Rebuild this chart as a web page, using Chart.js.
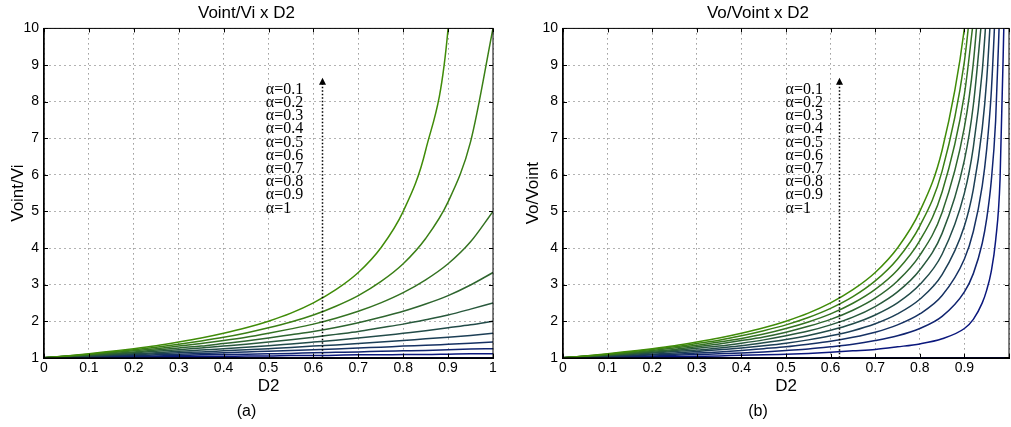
<!DOCTYPE html>
<html>
<head>
<meta charset="utf-8">
<script src="https://cdn.jsdelivr.net/npm/chart.js@4.4.0/dist/chart.umd.min.js"></script>
<style>
  body { margin: 0; background: #fff; }
  #wrap { position: relative; width: 1011px; height: 427px; overflow: hidden; }
  #left { position: absolute; left: 0; top: 0; }
  #right { position: absolute; left: 505px; top: 0; }
</style>
</head>
<body>
<div id="wrap">
  <canvas id="left" width="505" height="427"></canvas>
  <canvas id="right" width="506" height="427"></canvas>
</div>
<script>
// D2 sample points
var d2Left = [0, 0.05, 0.1, 0.15, 0.2, 0.25, 0.3, 0.35, 0.4, 0.45, 0.5, 0.55, 0.6, 0.65, 0.7, 0.75, 0.8, 0.85, 0.9, 0.95, 1];
var d2Right = [0, 0.05, 0.1, 0.15, 0.2, 0.25, 0.3, 0.35, 0.4, 0.45, 0.5, 0.55, 0.6, 0.65, 0.7, 0.75, 0.8, 0.85, 0.9, 0.92, 0.94, 0.95, 0.96, 0.97, 0.98, 0.99];

var xTicks = [0, 0.1, 0.2, 0.3, 0.4, 0.5, 0.6, 0.7, 0.8, 0.9, 1];
var yTicks = [1, 2, 3, 4, 5, 6, 7, 8, 9, 10];
var alphaLabels = ['α=0.1', 'α=0.2', 'α=0.3', 'α=0.4', 'α=0.5', 'α=0.6', 'α=0.7', 'α=0.8', 'α=0.9', 'α=1'];

// (a) Voint/Vi, top (green) curve first
var vointVi0  = [1, 1.05, 1.11, 1.18, 1.25, 1.33, 1.43, 1.54, 1.67, 1.82, 2, 2.22, 2.5, 2.86, 3.33, 4, 5, 6.67, 10, 20];
var vointVi1  = [1, 1.05, 1.1, 1.16, 1.22, 1.29, 1.37, 1.46, 1.56, 1.68, 1.82, 1.98, 2.17, 2.41, 2.7, 3.08, 3.57, 4.26, 5.26, 6.9, 10];
var vointVi2  = [1, 1.04, 1.09, 1.14, 1.19, 1.25, 1.32, 1.39, 1.47, 1.56, 1.67, 1.79, 1.92, 2.08, 2.27, 2.5, 2.78, 3.13, 3.57, 4.17, 5];
var vointVi3  = [1, 1.04, 1.08, 1.12, 1.16, 1.21, 1.27, 1.32, 1.39, 1.46, 1.54, 1.63, 1.72, 1.83, 1.96, 2.11, 2.27, 2.47, 2.7, 2.99, 3.33];
var vointVi4  = [1, 1.03, 1.06, 1.1, 1.14, 1.18, 1.22, 1.27, 1.32, 1.37, 1.43, 1.49, 1.56, 1.64, 1.72, 1.82, 1.92, 2.04, 2.17, 2.33, 2.5];
var vointVi5  = [1, 1.03, 1.05, 1.08, 1.11, 1.14, 1.18, 1.21, 1.25, 1.29, 1.33, 1.38, 1.43, 1.48, 1.54, 1.6, 1.67, 1.74, 1.82, 1.9, 2];
var vointVi6  = [1, 1.02, 1.04, 1.06, 1.09, 1.11, 1.14, 1.16, 1.19, 1.22, 1.25, 1.28, 1.32, 1.35, 1.39, 1.43, 1.47, 1.52, 1.56, 1.61, 1.67];
var vointVi7  = [1, 1.02, 1.03, 1.05, 1.06, 1.08, 1.1, 1.12, 1.14, 1.16, 1.18, 1.2, 1.22, 1.24, 1.27, 1.29, 1.32, 1.34, 1.37, 1.4, 1.43];
var vointVi8  = [1, 1.01, 1.02, 1.03, 1.04, 1.05, 1.06, 1.08, 1.09, 1.1, 1.11, 1.12, 1.14, 1.15, 1.16, 1.18, 1.19, 1.2, 1.22, 1.24, 1.25];
var vointVi9  = [1, 1.01, 1.01, 1.02, 1.02, 1.03, 1.03, 1.04, 1.04, 1.05, 1.05, 1.06, 1.06, 1.07, 1.08, 1.08, 1.09, 1.09, 1.1, 1.11, 1.11];
var vointVi10 = [1, 1, 1, 1, 1, 1, 1, 1, 1, 1, 1, 1, 1, 1, 1, 1, 1, 1, 1, 1, 1];

// (b) Vo/Voint, top (green) curve first
var voVoint0  = [1, 1.05, 1.11, 1.18, 1.25, 1.33, 1.43, 1.54, 1.67, 1.82, 2, 2.22, 2.5, 2.86, 3.33, 4, 5, 6.67, 10, 12.5];
var voVoint1  = [1, 1.05, 1.1, 1.16, 1.23, 1.3, 1.39, 1.48, 1.6, 1.74, 1.9, 2.1, 2.35, 2.67, 3.1, 3.7, 4.6, 6.1, 9.1, 11.35];
var voVoint2  = [1, 1.04, 1.09, 1.14, 1.2, 1.27, 1.34, 1.43, 1.53, 1.65, 1.8, 1.98, 2.2, 2.49, 2.87, 3.4, 4.2, 5.53, 8.2, 10.2];
var voVoint3  = [1, 1.04, 1.08, 1.12, 1.18, 1.23, 1.3, 1.38, 1.47, 1.57, 1.7, 1.86, 2.05, 2.3, 2.63, 3.1, 3.8, 4.97, 7.3, 9.05, 11.97];
var voVoint4  = [1, 1.03, 1.07, 1.11, 1.15, 1.2, 1.26, 1.32, 1.4, 1.49, 1.6, 1.73, 1.9, 2.11, 2.4, 2.8, 3.4, 4.4, 6.4, 7.9, 10.4];
var voVoint5  = [1, 1.03, 1.06, 1.09, 1.13, 1.17, 1.21, 1.27, 1.33, 1.41, 1.5, 1.61, 1.75, 1.93, 2.17, 2.5, 3, 3.83, 5.5, 6.75, 8.83, 10.5];
var voVoint6  = [1, 1.02, 1.04, 1.07, 1.1, 1.13, 1.17, 1.22, 1.27, 1.33, 1.4, 1.49, 1.6, 1.74, 1.93, 2.2, 2.6, 3.27, 4.6, 5.6, 7.27, 8.6, 10.6];
var voVoint7  = [1, 1.02, 1.03, 1.05, 1.08, 1.1, 1.13, 1.16, 1.2, 1.25, 1.3, 1.37, 1.45, 1.56, 1.7, 1.9, 2.2, 2.7, 3.7, 4.45, 5.7, 6.7, 8.2, 10.7];
var voVoint8  = [1, 1.01, 1.02, 1.04, 1.05, 1.07, 1.09, 1.11, 1.13, 1.16, 1.2, 1.24, 1.3, 1.37, 1.47, 1.6, 1.8, 2.13, 2.8, 3.3, 4.13, 4.8, 5.8, 7.47, 10.8];
var voVoint9  = [1, 1.01, 1.01, 1.02, 1.03, 1.03, 1.04, 1.05, 1.07, 1.08, 1.1, 1.12, 1.15, 1.19, 1.23, 1.3, 1.38, 1.52, 1.8, 2.05, 2.5, 2.85, 3.35, 4.2, 5.9, 10.9];
var voVoint10 = [1, 1, 1, 1, 1, 1, 1, 1, 1, 1, 1, 1, 1, 1, 1, 1, 1, 1, 1, 1, 1, 1, 1, 1, 1, 1];

// green -> navy
var curveColors = ['rgb(64,140,8)', 'rgb(58,127,21)', 'rgb(52,114,34)', 'rgb(46,101,47)', 'rgb(40,88,60)',
                   'rgb(34,75,73)', 'rgb(28,62,86)', 'rgb(22,49,99)', 'rgb(16,36,112)', 'rgb(10,23,125)', 'rgb(4,10,138)'];

Chart.defaults.font.family = "'Liberation Sans', Arial, sans-serif";
Chart.defaults.color = '#000';

function makeDatasets(xs, curves) {
    return curves.map(function(ys, i) {
        return {
            data: ys.map(function(y, j) { return {x: xs[j], y: y}; }),
            borderColor: curveColors[i],
            borderWidth: 1.5,
            pointRadius: 0,
            showLine: true,
            fill: false,
            cubicInterpolationMode: 'monotone'
        };
    });
}

// box, inner tick marks, alpha labels and dotted arrow
var framePlugin = {
    id: 'frame',
    afterDatasetsDraw: function(chart, args, opts) {
        var ctx = chart.ctx, a = chart.chartArea;
        var sx = chart.scales.x, sy = chart.scales.y;
        ctx.save();
        ctx.strokeStyle = '#000';
        ctx.lineWidth = 1;
        ctx.strokeRect(a.left, a.top, a.right - a.left, a.bottom - a.top);
        ctx.beginPath();
        xTicks.forEach(function(v) {
            var px = Math.round(sx.getPixelForValue(v)) + 0.5;
            ctx.moveTo(px, a.bottom); ctx.lineTo(px, a.bottom - 4);
            ctx.moveTo(px, a.top); ctx.lineTo(px, a.top + 4);
        });
        yTicks.forEach(function(v) {
            var py = Math.round(sy.getPixelForValue(v)) + 0.5;
            ctx.moveTo(a.left, py); ctx.lineTo(a.left + 4, py);
            ctx.moveTo(a.right, py); ctx.lineTo(a.right - 4, py);
        });
        ctx.stroke();

        // dotted arrow
        var ax = Math.round(sx.getPixelForValue(opts.arrowX)) + 0.5;
        var top = sy.getPixelForValue(opts.arrowTop);
        ctx.setLineDash([1.5, 2]);
        ctx.lineWidth = 1.5;
        ctx.beginPath();
        ctx.moveTo(ax, a.bottom);
        ctx.lineTo(ax, top + 6);
        ctx.stroke();
        ctx.setLineDash([]);
        ctx.fillStyle = '#000';
        ctx.beginPath();
        ctx.moveTo(ax, top);
        ctx.lineTo(ax - 3.5, top + 7);
        ctx.lineTo(ax + 3.5, top + 7);
        ctx.closePath();
        ctx.fill();

        // alpha labels
        ctx.font = "16px 'Liberation Serif', 'Times New Roman', serif";
        ctx.textAlign = 'left';
        ctx.textBaseline = 'middle';
        var tx = sx.getPixelForValue(opts.textX);
        var ty = sy.getPixelForValue(opts.textY);
        alphaLabels.forEach(function(t, i) {
            ctx.fillText(t, tx, ty + i * 13.2);
        });
        ctx.restore();
    }
};

function makeOptions(title, sub, yTitle, yWidth, yTitlePad, padRight, hideLastX, note) {
    return {
        responsive: false,
        devicePixelRatio: 1,
        animation: false,
        layout: { padding: { left: 0, right: padRight, top: 0, bottom: 0 } },
        plugins: {
            legend: { display: false },
            tooltip: { enabled: false },
            title: { display: true, text: title, font: { size: 17, weight: 'normal' }, padding: { top: 3, bottom: 5 } },
            subtitle: { display: true, position: 'bottom', text: sub, font: { size: 16 }, padding: { top: 4, bottom: 6 } },
            frame: note
        },
        scales: {
            x: {
                type: 'linear', min: 0, max: 1,
                afterFit: function(s) { s.height = 40; },
                afterBuildTicks: function(s) { s.ticks = xTicks.map(function(v) { return {value: v}; }); },
                ticks: {
                    padding: 2, maxRotation: 0, autoSkip: false, font: { size: 14 },
                    callback: function(v) { return (hideLastX && v === 1) ? '' : String(+v.toFixed(2)); }
                },
                grid: { color: 'rgba(0,0,0,0.6)', drawTicks: false, lineWidth: 1 },
                border: { color: '#000', width: 2, dash: [1, 4] },
                title: { display: true, text: 'D2', font: { size: 17 }, padding: { top: 0, bottom: 1 } }
            },
            y: {
                type: 'linear', min: 1, max: 10,
                afterFit: function(s) { s.width = yWidth; },
                afterBuildTicks: function(s) { s.ticks = yTicks.map(function(v) { return {value: v}; }); },
                ticks: { padding: 5, font: { size: 14 } },
                grid: { color: 'rgba(0,0,0,0.6)', drawTicks: false, lineWidth: 1 },
                border: { color: '#000', width: 1.5, dash: [1, 4] },
                title: { display: true, text: yTitle, font: { size: 17 }, padding: { top: yTitlePad, bottom: 0 } }
            }
        }
    };
}

new Chart(document.getElementById('left').getContext('2d'), {
    type: 'scatter',
    data: { datasets: makeDatasets(d2Left, [vointVi0, vointVi1, vointVi2, vointVi3, vointVi4, vointVi5,
                                           vointVi6, vointVi7, vointVi8, vointVi9, vointVi10]) },
    options: makeOptions('Voint/Vi x D2', '(a)', 'Voint/Vi', 44, 8, 12, false,
                         { arrowX: 0.62, arrowTop: 8.65, textX: 0.494, textY: 8.33 }),
    plugins: [framePlugin]
});

new Chart(document.getElementById('right').getContext('2d'), {
    type: 'scatter',
    data: { datasets: makeDatasets(d2Right, [voVoint0, voVoint1, voVoint2, voVoint3, voVoint4, voVoint5,
                                            voVoint6, voVoint7, voVoint8, voVoint9, voVoint10]) },
    options: makeOptions('Vo/Voint x D2', '(b)', 'Vo/Voint', 58, 18, 0, true,
                         { arrowX: 0.618, arrowTop: 8.65, textX: 0.499, textY: 8.33 }),
    plugins: [framePlugin]
});
</script>
</body>
</html>
